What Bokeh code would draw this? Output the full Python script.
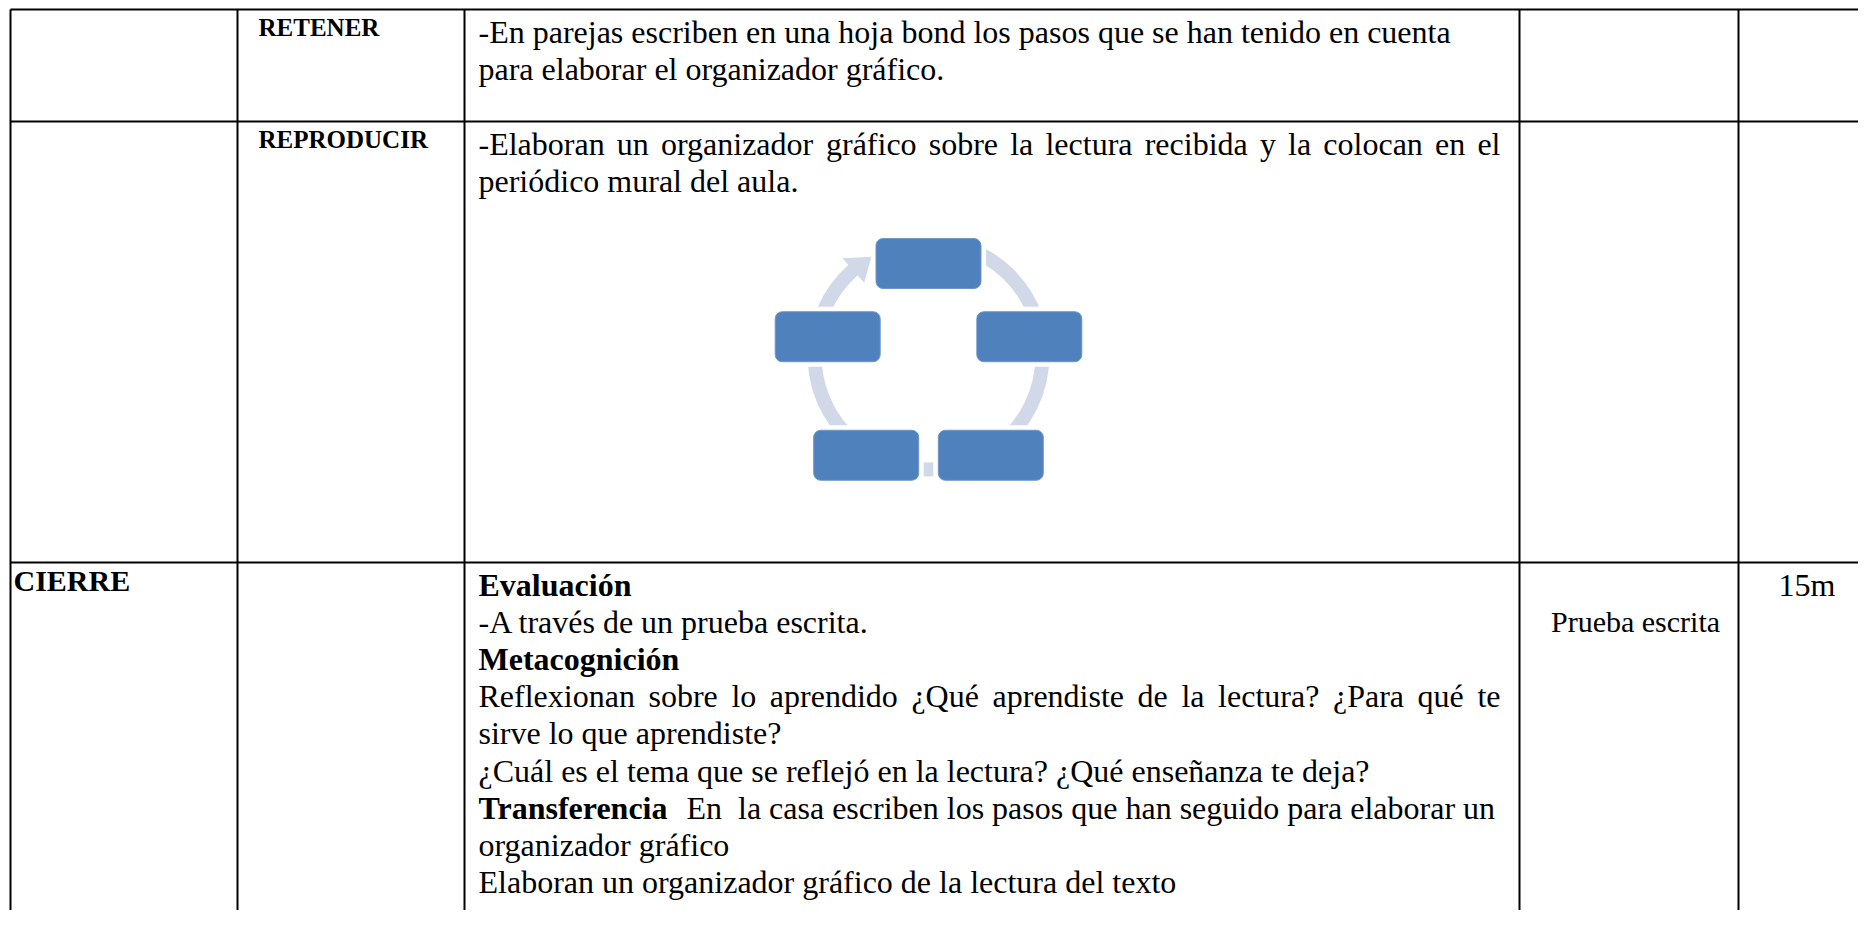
import math
from bokeh.plotting import figure
from bokeh.models import Range1d
from bokeh.embed import file_html
from bokeh.resources import INLINE
from bokeh.core.properties import value

# ---------------- table content ----------------
stage_labels = ["", "", "CIERRE"]
step_labels = ["RETENER", "REPRODUCIR", ""]
retener_text = [
    "-En parejas escriben en una hoja bond los pasos que se han tenido en cuenta",
    "para elaborar el organizador gráfico.",
]
reproducir_text = [
    "-Elaboran un organizador gráfico sobre la lectura recibida y la colocan en el",
    "periódico mural del aula.",
]
cierre_text = [
    ("Evaluación", "bold"),
    ("-A través de un prueba escrita.", "normal"),
    ("Metacognición", "bold"),
    ("Reflexionan sobre lo aprendido ¿Qué aprendiste de la lectura? ¿Para qué te", "justify"),
    ("sirve lo que aprendiste?", "normal"),
    ("¿Cuál es el tema que se reflejó en la lectura? ¿Qué enseñanza te deja?", "normal"),
    ("Transferencia|En\u00a0\u00a0la casa escriben los pasos que han seguido para elaborar un", "mixed"),
    ("organizador gráfico", "normal"),
    ("Elaboran un organizador gráfico de la lectura del texto", "normal"),
]
resource_labels = ["", "", "Prueba escrita"]
time_labels = ["", "", "15m"]
cycle_nodes = ["", "", "", "", ""]

# ---------------- layout ----------------
W, H = 1858, 910
def Y(py):
    return H - py

col_x = [10, 237, 464, 1519, 1738]
row_y = [9, 121, 562]
right_edge = W
bottom_edge = H

FONT = "Liberation Serif"
BODY_PX = 32
LABEL_PX = 25
STAGE_PX = 30
LINE = 37.2
PAD = 14
FIRST = 22
LAB_FIRST = 18
JUSTIFY_RIGHT = 1500

REG = {' ': 250, '-': 333, '?': 444, '¿': 444, '.': 250, 'a': 444, 'b': 500, 'c': 444,
       'd': 500, 'e': 444, 'f': 333, 'g': 500, 'h': 500, 'i': 278, 'j': 278, 'k': 500,
       'l': 278, 'm': 778, 'n': 500, 'o': 500, 'p': 500, 'q': 500, 'r': 333, 's': 389,
       't': 278, 'u': 500, 'v': 500, 'x': 500, 'y': 500, 'z': 444, 'á': 444, 'é': 444,
       'í': 278, 'ó': 500, 'ú': 500, 'ñ': 500, 'E': 611, 'P': 556, 'Q': 722, 'R': 667,
       'C': 667}
BOLD = {'T': 667, 'r': 444, 'a': 500, 'n': 556, 's': 389, 'f': 333, 'e': 444, 'c': 444,
        'i': 278}

def tw(s, table, size):
    return sum(table.get(ch, 500) for ch in s) * size / 1000.0

p = figure(width=W, height=H, x_range=Range1d(0, W), y_range=Range1d(0, H),
           output_backend="svg", toolbar_location=None, min_border=0,
           x_axis_location=None, y_axis_location=None)
p.grid.visible = False
p.outline_line_color = None
p.background_fill_color = "white"
p.border_fill_color = "white"

# ---------------- cycle diagram ----------------
ring_c = (928, 355)
ring_in, ring_out = 107, 121
ring_color = "#D1D8E8"
p.annular_wedge(x=[ring_c[0]], y=[Y(ring_c[1])], inner_radius=ring_in, outer_radius=ring_out,
                start_angle=131, end_angle=85, start_angle_units="deg", end_angle_units="deg",
                direction="anticlock", fill_color=ring_color, line_color=None)
def polar(r, a_deg):
    a = math.radians(a_deg)
    return ring_c[0] + r * math.cos(a), Y(ring_c[1]) + r * math.sin(a)
head = [polar(97, 131.5), polar(130, 131.5), polar(114, 120)]
p.patch([h[0] for h in head], [h[1] for h in head], fill_color=ring_color, line_color=None)

node_c = (928, 369)
node_r = 106
bw, bh = 105, 50
nx, ny = [], []
for k, _ in enumerate(cycle_nodes):
    a = math.radians(90 - 72 * k)
    nx.append(node_c[0] + node_r * math.cos(a))
    ny.append(Y(node_c[1]) + node_r * math.sin(a))
gap = 5
p.quad(left=[x - bw / 2 - gap for x in nx], right=[x + bw / 2 + gap for x in nx],
       bottom=[y - bh / 2 - gap for y in ny], top=[y + bh / 2 + gap for y in ny],
       fill_color="white", line_color=None)
p.quad(left=[x - bw / 2 for x in nx], right=[x + bw / 2 for x in nx],
       bottom=[y - bh / 2 for y in ny], top=[y + bh / 2 for y in ny],
       fill_color="#4F81BD", line_color="#6F97C8", line_width=1, border_radius=7)

# ---------------- table grid ----------------
p.segment(x0=[col_x[0]] * len(row_y), x1=[right_edge] * len(row_y),
          y0=[Y(r) for r in row_y], y1=[Y(r) for r in row_y], line_color="black", line_width=2)
p.segment(x0=col_x, x1=col_x, y0=[Y(row_y[0])] * len(col_x), y1=[Y(bottom_edge)] * len(col_x),
          line_color="black", line_width=2)

# ---------------- texts ----------------
reg = {"x": [], "y": [], "t": []}
bold = {"x": [], "y": [], "t": []}
lab = {"x": [], "y": [], "t": []}
stg = {"x": [], "y": [], "t": []}

for i, s in enumerate(stage_labels):
    if s:
        stg["x"].append(col_x[0] + 3); stg["y"].append(Y(row_y[i] + LAB_FIRST)); stg["t"].append(s)
for i, s in enumerate(step_labels):
    if s:
        lab["x"].append(col_x[1] + 21); lab["y"].append(Y(row_y[i] + LAB_FIRST)); lab["t"].append(s)

x0 = col_x[2] + PAD
for k, s in enumerate(retener_text):
    reg["x"].append(x0); reg["y"].append(Y(row_y[0] + FIRST + k * LINE)); reg["t"].append(s)

def add_justified(s, base_y):
    words = s.split(" ")
    widths = [tw(w, REG, BODY_PX) for w in words]
    g = (JUSTIFY_RIGHT - x0 - sum(widths)) / (len(words) - 1)
    xx = x0
    for w, wd in zip(words, widths):
        reg["x"].append(xx); reg["y"].append(base_y); reg["t"].append(w)
        xx += wd + g

for k, s in enumerate(reproducir_text):
    by = Y(row_y[1] + FIRST + k * LINE)
    if k == 0:
        add_justified(s, by)
    else:
        reg["x"].append(x0); reg["y"].append(by); reg["t"].append(s)

for k, (s, style) in enumerate(cierre_text):
    by = Y(row_y[2] + FIRST + k * LINE)
    if style == "bold":
        bold["x"].append(x0); bold["y"].append(by); bold["t"].append(s)
    elif style == "justify":
        add_justified(s, by)
    elif style == "mixed":
        b, r = s.split("|")
        bold["x"].append(x0); bold["y"].append(by); bold["t"].append(b)
        xr = x0 + tw(b, BOLD, BODY_PX) + 2 * tw(" ", REG, BODY_PX)
        reg["x"].append(xr); reg["y"].append(by); reg["t"].append(r)
    else:
        reg["x"].append(x0); reg["y"].append(by); reg["t"].append(s)

common = dict(text_font=value(FONT), text_baseline="alphabetic", text_color="black")
p.text(x=reg["x"], y=reg["y"], text=reg["t"], text_font_size=f"{BODY_PX}px",
       text_align="left", **common)
p.text(x=bold["x"], y=bold["y"], text=bold["t"], text_font_size=f"{BODY_PX}px",
       text_font_style="bold", text_align="left", **common)
p.text(x=lab["x"], y=lab["y"], text=lab["t"], text_font_size=f"{LABEL_PX}px",
       text_font_style="bold", text_align="left", **common)
p.text(x=stg["x"], y=stg["y"], text=stg["t"], text_font_size=f"{STAGE_PX}px",
       text_font_style="bold", text_align="left", **common)

res_x = [1635 for s in resource_labels if s]
res_y = [Y(row_y[i] + FIRST + LINE) for i, s in enumerate(resource_labels) if s]
p.text(x=res_x, y=res_y, text=[s for s in resource_labels if s], text_font_size="30px",
       text_align="center", **common)
tim_x = [col_x[4] + 40 for s in time_labels if s]
tim_y = [Y(row_y[i] + FIRST) for i, s in enumerate(time_labels) if s]
p.text(x=tim_x, y=tim_y, text=[s for s in time_labels if s], text_font_size=f"{BODY_PX}px",
       text_align="left", **common)

open("out.html", "w").write(file_html(p, INLINE))
